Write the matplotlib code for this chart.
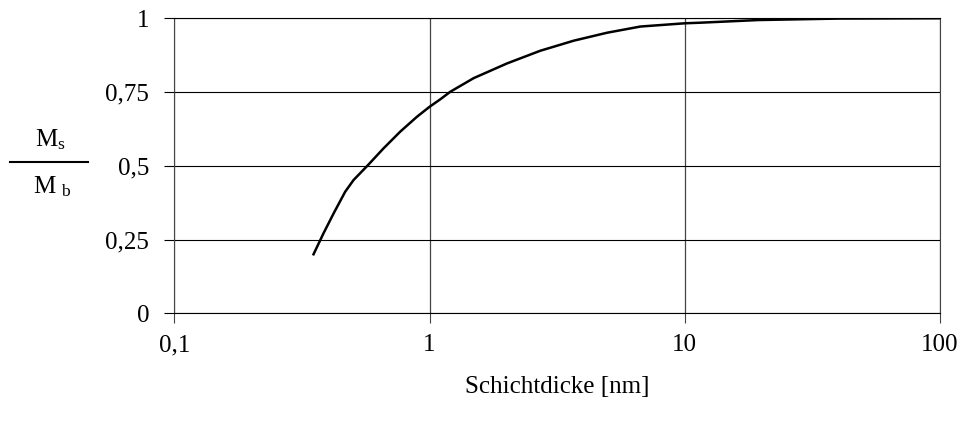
import matplotlib
matplotlib.use('Agg')
from matplotlib import pyplot as plt
from matplotlib.lines import Line2D

plt.rcParams['font.family'] = ['Liberation Serif', 'DejaVu Serif']
plt.rcParams['mathtext.default'] = 'regular'

# Werte
schichtdicke = [0.351, 0.384, 0.421, 0.467, 0.504, 0.569, 0.66, 0.768, 0.892,
                1.0, 1.1, 1.206, 1.488, 2.012, 2.717, 3.67, 4.96, 6.7, 10,
                11.5, 19.4, 40, 100]
ms_mb = [0.2, 0.271, 0.339, 0.412, 0.452, 0.499, 0.559, 0.616, 0.666,
         0.70, 0.725, 0.751, 0.797, 0.847, 0.89, 0.924, 0.951, 0.972, 0.983,
         0.985, 0.994, 0.999, 1.0]

x_ticks = [0.1, 1, 10, 100]
x_labels = ['0,1', '1', '10', '100']
y_ticks = [0, 0.25, 0.5, 0.75, 1]
y_labels = ['0', '0,25', '0,5', '0,75', '1']

fig = plt.figure(figsize=(9.67, 4.32), dpi=100)
ax = fig.add_axes([0.1803, 0.2748, 0.7918, 0.6829])

ax.plot(schichtdicke, ms_mb, color='black', lw=1.8, solid_joinstyle='round')
ax.set_xscale('log')
ax.set_xlim(0.1, 100)
ax.set_ylim(0, 1)
ax.set_xticks(x_ticks)
ax.set_xticklabels(x_labels)
ax.set_yticks(y_ticks)
ax.set_yticklabels(y_labels)
ax.minorticks_off()
ax.tick_params(axis='both', direction='out', length=7, width=0.8, labelsize=18)
ax.tick_params(axis='y', pad=11)
ax.tick_params(axis='x', pad=8, color='#444444')
# senkrechte Linien etwas grauer als die waagrechten
ax.grid(True, axis='y', color='black', lw=0.8)
ax.grid(True, axis='x', color='#444444', lw=0.9)
for s in ax.spines.values():
    s.set_linewidth(0.8)
ax.spines['left'].set_color('#444444')
ax.spines['right'].set_color('#444444')

ax.set_xlabel('Schichtdicke [nm]', fontsize=18, labelpad=14)

# Bruch M_s / M_b als y-Beschriftung
fig.text(50 / 967, 1 - 140 / 432, r'M$_{s}$', fontsize=18, ha='center', va='center')
fig.text(52 / 967, 1 - 187 / 432, r'M$_{\ b}$', fontsize=18, ha='center', va='center')
fig.add_artist(Line2D([10 / 967, 88 / 967], [1 - 162 / 432, 1 - 162 / 432],
                      color='black', lw=1.5))

fig.savefig('out.png', dpi=100)
